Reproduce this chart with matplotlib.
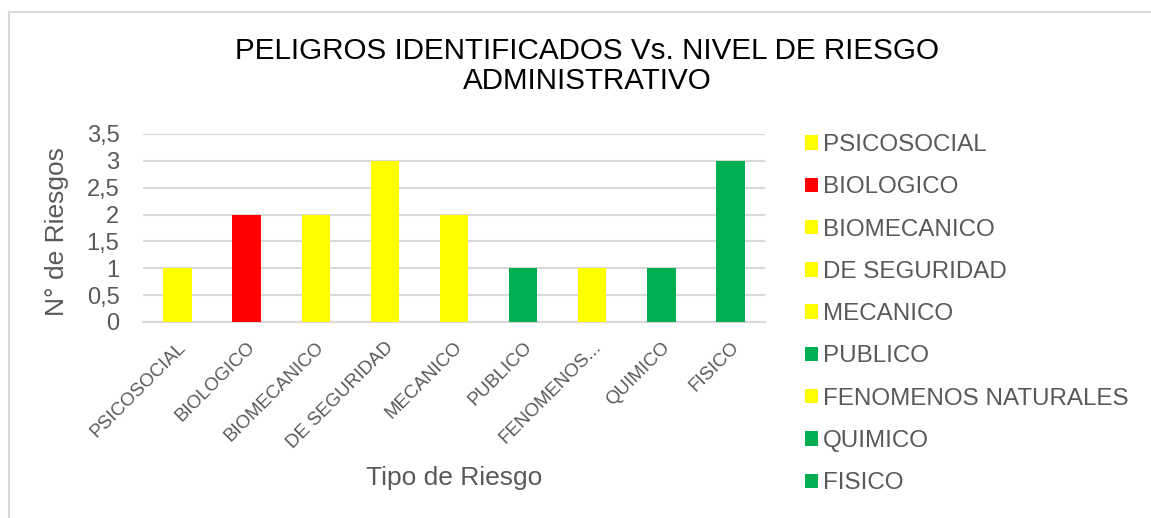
import matplotlib
matplotlib.use("Agg")
import matplotlib.pyplot as plt
from matplotlib.patches import Rectangle, Patch

categories = ["PSICOSOCIAL", "BIOLOGICO", "BIOMECANICO", "DE SEGURIDAD", "MECANICO",
              "PUBLICO", "FENOMENOS NATURALES", "QUIMICO", "FISICO"]
tick_labels = ["PSICOSOCIAL", "BIOLOGICO", "BIOMECANICO", "DE SEGURIDAD", "MECANICO",
               "PUBLICO", "FENOMENOS...", "QUIMICO", "FISICO"]
values = [1, 2, 2, 3, 2, 1, 1, 1, 3]
colors = ["#FFFF00", "#FF0000", "#FFFF00", "#FFFF00", "#FFFF00",
          "#00B050", "#FFFF00", "#00B050", "#00B050"]
yticks = [0, 0.5, 1, 1.5, 2, 2.5, 3, 3.5]
ytick_labels = ["0", "0,5", "1", "1,5", "2", "2,5", "3", "3,5"]

plt.rcParams['font.family'] = ['Liberation Sans', 'DejaVu Sans']
txt = "#595959"
W, H = 1151, 518
fig = plt.figure(figsize=(W/100, H/100), dpi=100)
fig.patches.append(Rectangle((9/W, -0.1), 1.2, 1 - 12/H + 0.1, transform=fig.transFigure,
                             fill=False, edgecolor="#d9d9d9", linewidth=1.5))

ax = fig.add_axes([143/W, 1 - 322/H, 622/W, (322-134)/H])
x = list(range(len(categories)))
handles = []
for i, (c, v, col) in enumerate(zip(categories, values, colors)):
    ax.bar(i, v, width=0.41, color=col, zorder=3, label=c)
    handles.append(Patch(facecolor=col, label=c))
ax.set_xlim(-0.5, len(categories) - 0.5)
ax.set_ylim(0, 3.5)
ax.set_yticks(yticks)
ax.set_yticklabels(ytick_labels, fontsize=17, color=txt)
ax.set_xticks(x)
ax.set_xticklabels(tick_labels, rotation=45, ha="right", rotation_mode="anchor",
                   fontsize=13.5, color=txt)
ax.tick_params(axis="both", length=0)
ax.tick_params(axis="y", pad=17)
ax.tick_params(axis="x", pad=12)
ax.grid(axis="y", color="#d9d9d9", linewidth=1.5, zorder=0)
for s in ["top", "right", "left"]:
    ax.spines[s].set_visible(False)
ax.spines["bottom"].set_color("#d9d9d9")
ax.spines["bottom"].set_linewidth(1.5)
fig.text(57/W, 1 - 232/H, "N° de Riesgos", rotation=90, ha="center", va="center",
         fontsize=19, color=txt)
fig.text(454/W, 1 - 478/H, "Tipo de Riesgo", ha="center", va="center",
         fontsize=19, color=txt)

fig.text(587/W, 1 - 66/H, "PELIGROS IDENTIFICADOS Vs. NIVEL DE RIESGO\nADMINISTRATIVO",
         ha="center", va="center", fontsize=21.3, color="#000000", linespacing=1.08)

fig.legend(handles=handles, loc="upper left", bbox_to_anchor=(805/W, 1 - 134/H),
           frameon=False, fontsize=17.4, handlelength=0.54, handleheight=0.54,
           handletextpad=0.2, labelspacing=0.84, labelcolor=txt, borderpad=0,
           borderaxespad=0)

fig.savefig("out.png", dpi=100)
